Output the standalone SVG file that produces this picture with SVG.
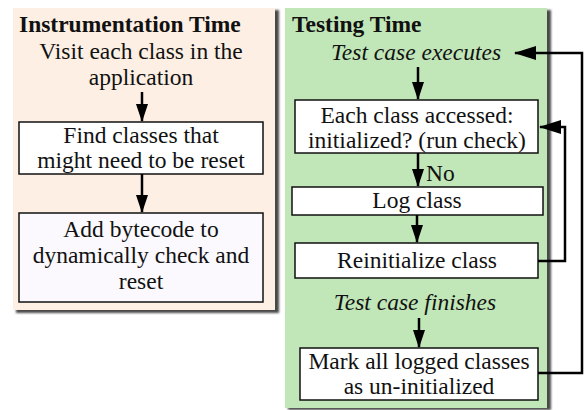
<svg xmlns="http://www.w3.org/2000/svg" width="584" height="410" viewBox="0 0 584 410">
<style>
text{font-family:'Liberation Serif','Times New Roman',serif;fill:#111;font-size:23.5px}
.t{font-weight:bold}
.i{font-style:italic}
.c{text-anchor:middle}
.box{fill:#fff;stroke:#111;stroke-width:1.5}
.ln{fill:none;stroke:#000;stroke-width:2.5}
</style>
<defs>
<filter id="sh" x="-5%" y="-5%" width="115%" height="115%"><feGaussianBlur stdDeviation="1"/></filter>
<marker id="ad" markerUnits="userSpaceOnUse" markerWidth="18" markerHeight="12" refX="17" refY="6" orient="auto"><path d="M0,0 L18,6 L0,12 Z" fill="#000"/></marker>
<marker id="ah" markerUnits="userSpaceOnUse" markerWidth="22" markerHeight="14" refX="21" refY="7" orient="auto"><path d="M0,0 L22,7 L0,14 Z" fill="#000"/></marker>
</defs>
<g font-family="Liberation Serif, Times New Roman, serif">
<g id="panel-instrumentation">
<rect x="16" y="10" width="263" height="303" fill="#4a4a4a" filter="url(#sh)"/>
<rect x="13" y="8" width="262" height="302" fill="#fdefe3"/>
<text class="t" x="19" y="32">Instrumentation Time</text>
</g>
<g id="panel-testing">
<rect x="288" y="10" width="263" height="400" fill="#4a4a4a" filter="url(#sh)"/>
<rect x="285" y="8" width="262" height="400" fill="#c1e6b8"/>
<text class="t" x="292" y="32">Testing Time</text>
</g>
<g id="n-visit">
<text class="c" x="141" y="59">Visit each class in the</text>
<text class="c" x="141" y="85">application</text>
</g>
<g id="n-find">
<rect class="box" x="19" y="122" width="244" height="52"/>
<text class="c" x="141" y="143">Find classes that</text>
<text class="c" x="141" y="168">might need to be reset</text>
</g>
<g id="n-add">
<rect class="box" x="19" y="213" width="244" height="89" style="fill:#fbf9fe"/>
<text class="c" x="141" y="237">Add bytecode to</text>
<text class="c" x="141" y="263">dynamically check and</text>
<text class="c" x="141" y="289">reset</text>
</g>
<g id="n-executes">
<text class="i c" x="416" y="60">Test case executes</text>
</g>
<g id="n-each">
<rect class="box" x="295" y="100" width="243" height="53"/>
<text class="c" x="417" y="123">Each class accessed:</text>
<text class="c" x="417" y="148">initialized? (run check)</text>
</g>
<g id="n-log">
<rect class="box" x="292" y="187" width="251" height="28"/>
<text class="c" x="417" y="208">Log class</text>
</g>
<g id="n-reinit">
<rect class="box" x="295" y="243" width="243" height="35"/>
<text class="c" x="417" y="268">Reinitialize class</text>
</g>
<g id="n-finishes">
<text class="i c" x="415" y="310">Test case finishes</text>
</g>
<g id="n-mark">
<rect class="box" x="300" y="348" width="238" height="52"/>
<text class="c" x="419" y="369">Mark all logged classes</text>
<text class="c" x="419" y="394">as un-initialized</text>
</g>
<g id="connectors">
<path class="ln" d="M142,92 V121" marker-end="url(#ad)"/>
<path class="ln" d="M142,174 V212" marker-end="url(#ad)"/>
<path class="ln" d="M418,67 V99" marker-end="url(#ad)"/>
<path class="ln" d="M418,153 V186" marker-end="url(#ad)"/>
<text x="426" y="181">No</text>
<path class="ln" d="M417,215 V242" marker-end="url(#ad)"/>
<path class="ln" d="M419,318 V347" marker-end="url(#ad)"/>
<path class="ln" d="M538,261 H565 V127 H540" marker-end="url(#ah)"/>
<path class="ln" d="M538,373 H582 V53 H515" marker-end="url(#ah)"/>
</g>
</g>
</svg>
